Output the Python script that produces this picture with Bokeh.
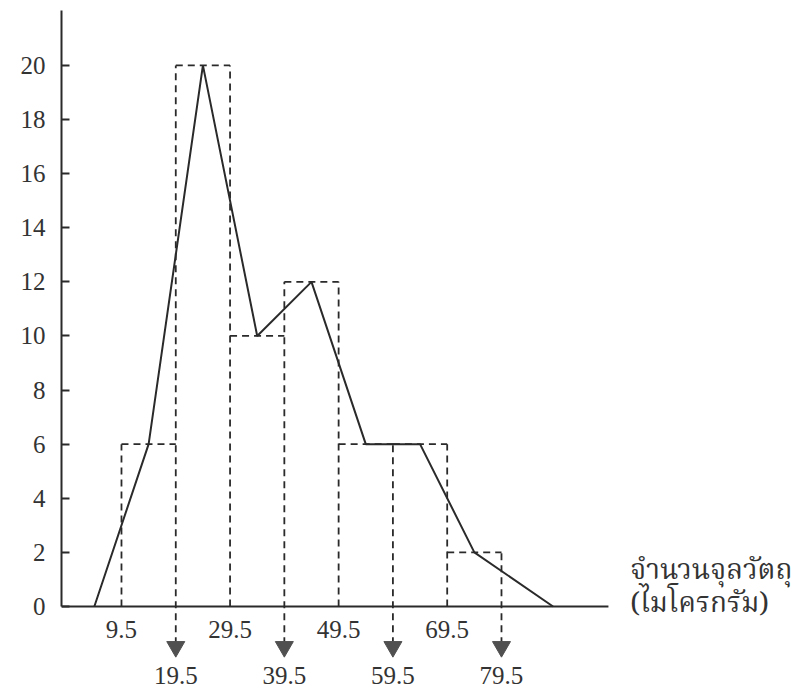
from bokeh.plotting import figure
from bokeh.models import FixedTicker, LinearAxis, Range1d
from bokeh.embed import file_html
from bokeh.resources import INLINE
from bokeh.core.properties import value

# ---- data ----
class_edges = [9.5, 19.5, 29.5, 39.5, 49.5, 59.5, 69.5, 79.5]
frequencies = [6, 20, 10, 12, 6, 6, 2]
polygon_x = [4.5, 14.5, 24.5, 34.5, 44.5, 54.5, 64.5, 74.5, 89.0]
polygon_y = [0, 6, 20, 10, 12, 6, 6, 2, 0]
y_tick_values = [0, 2, 4, 6, 8, 10, 12, 14, 16, 18, 20]
x_ticks_upper = [9.5, 29.5, 49.5, 69.5]
x_ticks_lower = [19.5, 39.5, 59.5, 79.5]
x_title_lines = ["จำนวนจุลวัตถุ", "(ไมโครกรัม)"]

INK = "#2a2a2a"
TXT = "#333333"
SERIF = "'Liberation Serif', 'Times New Roman', serif"
THAI = "'Noto Serif Thai', 'Noto Sans Thai', 'Loma', 'Garuda', 'Noto Sans', serif"
FS = "25px"

# layout constants (screen geometry of the reference)
X_MIN, X_MAX = -1.55, 133.66
Y_MIN, Y_MAX = -3.07, 22.40
AXIS_X_END = 99.2
AXIS_Y_END = 22.03
ROW1_Y, ROW2_Y = -0.87, -2.55
TRI_Y, ARROW_END_Y = -1.49, -1.40
TITLE_X, TITLE_Y1, TITLE_Y2 = 103.2, 1.30, 0.06

p = figure(width=795, height=689, output_backend="svg", toolbar_location=None,
           x_range=Range1d(X_MIN, X_MAX), y_range=Range1d(Y_MIN, Y_MAX),
           min_border_left=61, min_border_right=0, min_border_top=0, min_border_bottom=0,
           x_axis_location=None, y_axis_location=None)
p.outline_line_color = None
p.background_fill_color = "white"
p.border_fill_color = "white"
p.xgrid.visible = False
p.ygrid.visible = False

# y axis (real axis, line limited to the positive part)
yax = LinearAxis(ticker=FixedTicker(ticks=y_tick_values), bounds=(0, AXIS_Y_END))
yax.axis_line_color = INK
yax.axis_line_width = 2
yax.major_tick_in = 8
yax.major_tick_out = 0
yax.major_tick_line_color = INK
yax.major_tick_line_width = 2
yax.minor_tick_line_color = None
yax.major_label_standoff = 16
yax.major_label_text_font = SERIF
yax.major_label_text_font_size = FS
yax.major_label_text_color = TXT
p.add_layout(yax, "left")

# x axis line at y = 0
p.segment(x0=[X_MIN], y0=[0], x1=[AXIS_X_END], y1=[0], line_color=INK, line_width=2)

# x tick labels in two rows
p.text(x=x_ticks_upper, y=[ROW1_Y] * len(x_ticks_upper),
       text=[f"{v:g}" for v in x_ticks_upper], text_align="center", text_baseline="middle",
       text_font=value(SERIF), text_font_size=FS, text_color=TXT)
p.text(x=x_ticks_lower, y=[ROW2_Y] * len(x_ticks_lower),
       text=[f"{v:g}" for v in x_ticks_lower], text_align="center", text_baseline="middle",
       text_font=value(SERIF), text_font_size=FS, text_color=TXT)

# dashed histogram outlines
p.segment(x0=class_edges[:-1], y0=frequencies, x1=class_edges[1:], y1=frequencies,
          line_color=INK, line_width=1.8, line_dash="7 5")
edge_heights = []
edge_bottoms = []
for i, e in enumerate(class_edges):
    left = frequencies[i - 1] if i > 0 else 0
    right = frequencies[i] if i < len(frequencies) else 0
    edge_heights.append(max(left, right))
    edge_bottoms.append(ARROW_END_Y if e in x_ticks_lower else 0)
p.segment(x0=class_edges, y0=edge_bottoms, x1=class_edges, y1=edge_heights,
          line_color=INK, line_width=1.8, line_dash="7 5")

# arrow heads under the lower-row labels
p.scatter(x=x_ticks_lower, y=[TRI_Y] * len(x_ticks_lower), marker="inverted_triangle",
          size=18, fill_color="#505050", line_color="#505050")

# frequency polygon
p.line(polygon_x, polygon_y, line_color=INK, line_width=2)

# axis title to the right
p.text(x=[TITLE_X, TITLE_X], y=[TITLE_Y1, TITLE_Y2], text=x_title_lines, text_align="left",
       text_baseline="middle", text_font=value(THAI), text_font_size="28px", text_color=TXT)

open("out.html", "w").write(file_html(p, INLINE))
